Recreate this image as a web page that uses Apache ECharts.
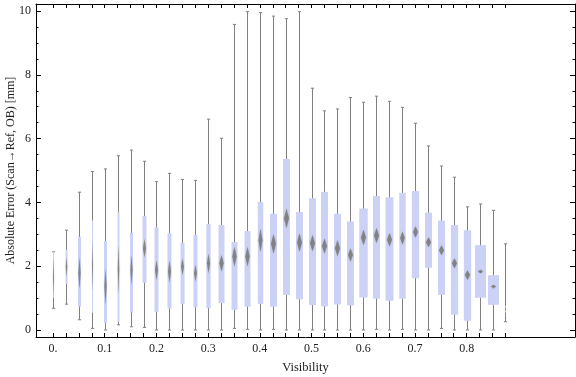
<!DOCTYPE html>
<html>
<head>
<meta charset="utf-8">
<script src="https://cdn.jsdelivr.net/npm/echarts@6/dist/echarts.min.js"></script>
<style>
  html, body { margin: 0; padding: 0; background: #fff; }
  #chart { width: 576px; height: 377px; }
</style>
</head>
<body>
<div id="chart"></div>
<script>
// visibility bins (one box per bin)
var visibility = [0, 0.025, 0.05, 0.075, 0.1, 0.125, 0.15, 0.175, 0.2, 0.225, 0.25, 0.275,
  0.3, 0.325, 0.35, 0.375, 0.4, 0.425, 0.45, 0.475, 0.5, 0.525, 0.55, 0.575,
  0.6, 0.625, 0.65, 0.675, 0.7, 0.725, 0.75, 0.775, 0.8, 0.825, 0.85, 0.875];
// absolute error statistics [mm]
var minVals = [0.68, 0.81, 0.32, 0.05, 0.00, 0.16, 0.10, 0.08, 0.00, 0.00, 0.00, 0.00,
  0.00, 0.00, 0.05, 0.02, 0.00, 0.02, 0.00, 0.00, 0.00, 0.00, 0.00, 0.00,
  0.00, 0.02, 0.00, 0.02, 0.00, 0.00, 0.05, 0.00, 0.00, 0.00, 0.00, 0.26];
var q1Vals = [1.01, 1.45, 0.73, 0.54, 0.21, 0.25, 0.55, 1.48, 0.57, 0.67, 0.81, 0.71,
  0.68, 0.84, 0.63, 0.73, 0.82, 0.73, 1.10, 0.96, 0.78, 0.74, 0.80, 0.77,
  1.02, 0.98, 0.92, 0.98, 1.62, 1.95, 1.10, 0.48, 0.29, 1.01, 0.79, 0.55];
var medianVals = [1.65, 1.98, 1.78, 2.00, 1.36, 1.90, 1.88, 2.56, 1.88, 1.83, 1.98, 1.78,
  2.09, 2.09, 2.30, 2.30, 2.81, 2.70, 3.50, 2.74, 2.72, 2.63, 2.56, 2.35,
  2.90, 2.96, 2.83, 2.88, 3.07, 2.75, 2.50, 2.09, 1.72, 1.83, 1.36, 0.65];
var q3Vals = [2.45, 2.51, 2.92, 3.43, 2.79, 3.71, 3.05, 3.57, 3.22, 3.04, 2.73, 2.98,
  3.32, 3.29, 2.76, 3.10, 4.01, 3.64, 5.36, 3.70, 4.13, 4.33, 3.64, 3.40,
  3.81, 4.20, 4.16, 4.30, 4.36, 3.68, 3.43, 3.29, 3.13, 2.66, 1.72, 0.75];
var maxVals = [2.45, 3.13, 4.32, 4.97, 5.05, 5.46, 5.64, 5.29, 4.65, 4.91, 4.72, 4.69,
  6.61, 6.01, 9.58, 9.98, 9.95, 9.84, 9.76, 9.98, 7.58, 6.87, 6.93, 7.29,
  7.14, 7.33, 7.17, 6.98, 6.48, 5.77, 5.14, 4.79, 3.86, 3.95, 3.75, 2.70];
// relative sample weight per bin (drives box width)
var sampleWeight = [1, 2, 3, 1, 3, 2, 3, 4, 4, 4, 4, 4,
  4.3, 6, 6, 6, 5.5, 7, 7, 7, 7, 7, 7, 7,
  8.5, 7, 8, 6.5, 7.3, 7, 7, 7.3, 7.3, 11, 11, 1];
// half-width of the median confidence interval [mm]
var medianCI = [0.62, 0.30, 0.50, 0.78, 0.57, 0.75, 0.47, 0.29, 0.31, 0.34, 0.26, 0.26,
  0.31, 0.26, 0.31, 0.31, 0.37, 0.31, 0.31, 0.29, 0.26, 0.24, 0.26, 0.21,
  0.24, 0.24, 0.21, 0.21, 0.18, 0.16, 0.16, 0.16, 0.15, 0.06, 0.06, 0.08];

var xLabelValues = [0, 0.1, 0.2, 0.3, 0.4, 0.5, 0.6, 0.7, 0.8];
var yLabelValues = [0, 2, 4, 6, 8, 10];
var yMinorValues = [];
for (var t = 0; t <= 10; t += 0.5) {
  if (t % 2 !== 0) yMinorValues.push(t);
}

var seriesData = visibility.map(function (v, i) {
  return [v, minVals[i], q1Vals[i], medianVals[i], q3Vals[i], maxVals[i], sampleWeight[i], medianCI[i]];
});

var FONT = '"Liberation Serif", "Times New Roman", serif';
var TXT = '#222';
var WHISKER = '#808080';

function renderBox(params, api) {
  var x = api.value(0);
  var pMin = api.coord([x, api.value(1)]);
  var pQ1 = api.coord([x, api.value(2)]);
  var pMed = api.coord([x, api.value(3)]);
  var pQ3 = api.coord([x, api.value(4)]);
  var pMax = api.coord([x, api.value(5)]);
  var band = api.size([0.025, 0])[0];
  var w = api.value(6) / 11 * 0.85 * band;
  var ci = api.size([0, api.value(7)])[1];
  var cx = Math.round(pMed[0]) + 0.5;
  var dw = Math.max(1, Math.min(w * 0.72, 5));
  var cap = 1.6;
  var ls = { stroke: WHISKER, lineWidth: 1 };
  return {
    type: 'group',
    children: [
      { type: 'line', shape: { x1: cx, y1: pMin[1], x2: cx, y2: pMax[1] }, style: ls },
      { type: 'line', shape: { x1: cx - cap, y1: pMin[1], x2: cx + cap, y2: pMin[1] }, style: ls },
      { type: 'line', shape: { x1: cx - cap, y1: pMax[1], x2: cx + cap, y2: pMax[1] }, style: ls },
      { type: 'rect', shape: { x: cx - w / 2, y: pQ3[1], width: w, height: pQ1[1] - pQ3[1] },
        style: { fill: '#ccd2f5' } },
      { type: 'polygon',
        shape: { points: [[cx, pMed[1] - ci], [cx + dw / 2, pMed[1]], [cx, pMed[1] + ci], [cx - dw / 2, pMed[1]]] },
        style: { fill: 'rgba(120,120,120,0.8)', shadowBlur: 1.5, shadowColor: 'rgba(120,120,120,0.6)' } }
    ]
  };
}

var chart = echarts.init(document.getElementById('chart'));

var xCommon = { type: 'value', min: -0.0329, max: 1.0095, splitLine: { show: false } };
var yCommon = { type: 'value', min: -0.22, max: 10.22, splitLine: { show: false } };
var frameLine = { onZero: false, lineStyle: { color: '#000', width: 1 } };

var option = {
  backgroundColor: '#fff',
  animation: false,
  grid: { left: 36, right: 1, top: 4, bottom: 40, containLabel: false, outerBoundsMode: 'none' },
  xAxis: [
    Object.assign({}, xCommon, {
      position: 'bottom',
      name: 'Visibility',
      nameLocation: 'middle',
      nameGap: 24,
      nameMoveOverlap: false,
      nameTextStyle: { fontFamily: FONT, fontSize: 12.5, color: TXT },
      axisLine: frameLine,
      axisTick: { inside: true, length: 4, customValues: visibility, lineStyle: { color: '#000' } },
      axisLabel: {
        customValues: xLabelValues, margin: 6, fontFamily: FONT, fontSize: 12, color: TXT,
        formatter: function (v) { return v === 0 ? '0.' : (+v.toFixed(1)).toString(); }
      }
    }),
    Object.assign({}, xCommon, {
      position: 'top',
      axisLine: frameLine,
      axisTick: { inside: true, length: 4, customValues: visibility, lineStyle: { color: '#000' } },
      axisLabel: { show: false }
    })
  ],
  yAxis: [
    Object.assign({}, yCommon, {
      position: 'left',
      name: 'Absolute Error (Scan\u2192Ref, OB) [mm]',
      nameLocation: 'middle',
      nameGap: 19,
      nameMoveOverlap: false,
      nameTextStyle: { fontFamily: FONT, fontSize: 12, color: TXT },
      axisLine: frameLine,
      axisTick: { inside: true, length: 5, customValues: yLabelValues, lineStyle: { color: '#000' } },
      axisLabel: { customValues: yLabelValues, margin: 5, fontFamily: FONT, fontSize: 12, color: TXT }
    }),
    Object.assign({}, yCommon, {
      position: 'left',
      axisLine: { show: false, onZero: false },
      axisTick: { inside: true, length: 2.5, customValues: yMinorValues, lineStyle: { color: '#000' } },
      axisLabel: { show: false }
    }),
    Object.assign({}, yCommon, {
      position: 'right',
      axisLine: frameLine,
      axisTick: { inside: true, length: 5, customValues: yLabelValues, lineStyle: { color: '#000' } },
      axisLabel: { show: false }
    }),
    Object.assign({}, yCommon, {
      position: 'right',
      axisLine: { show: false, onZero: false },
      axisTick: { inside: true, length: 2.5, customValues: yMinorValues, lineStyle: { color: '#000' } },
      axisLabel: { show: false }
    })
  ],
  series: [
    {
      type: 'custom',
      xAxisIndex: 0,
      yAxisIndex: 0,
      renderItem: renderBox,
      encode: { x: 0, y: [1, 2, 3, 4, 5] },
      data: seriesData
    }
  ]
};

chart.setOption(option);
</script>
</body>
</html>
